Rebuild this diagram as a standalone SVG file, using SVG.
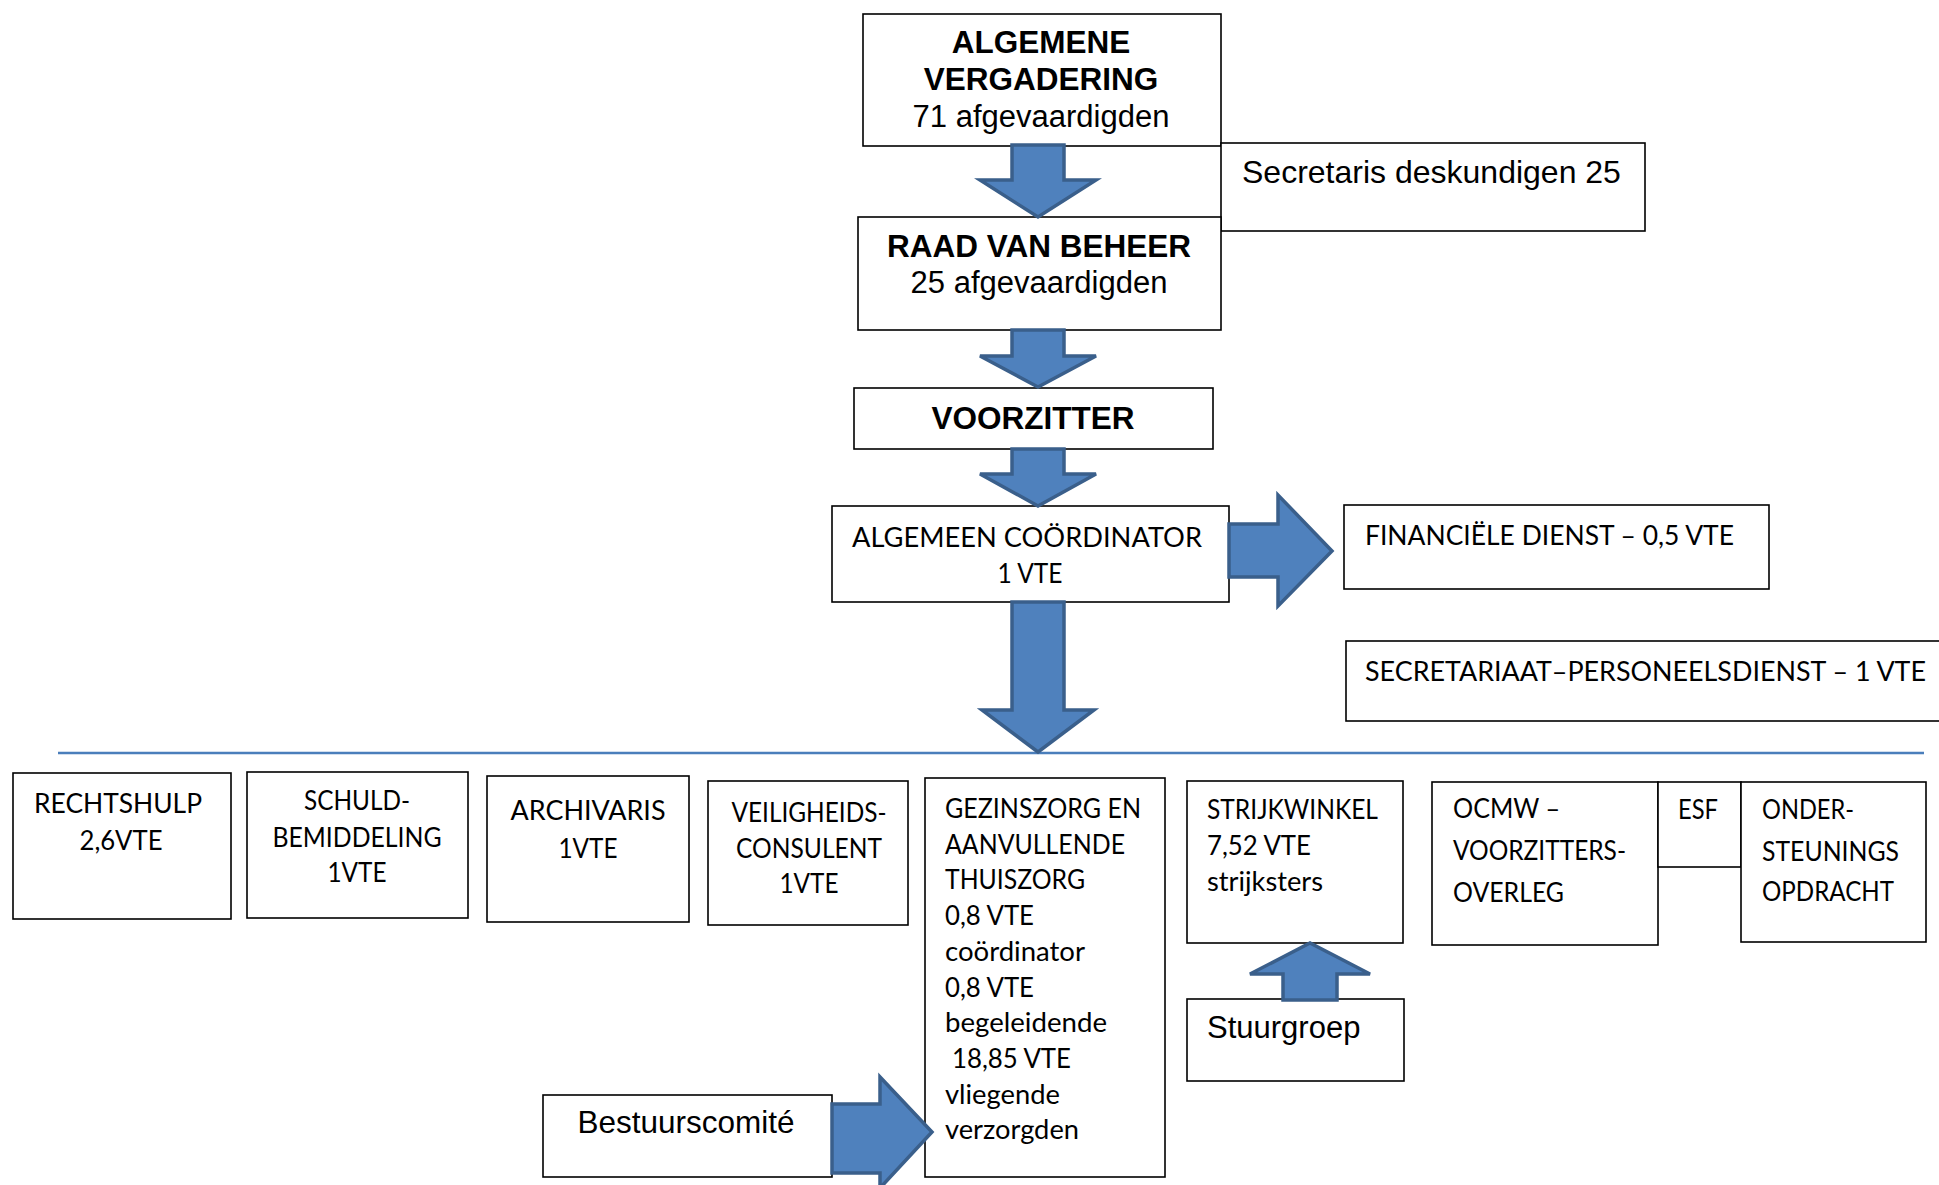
<svg xmlns="http://www.w3.org/2000/svg" width="1939" height="1185" viewBox="0 0 1939 1185">
<style>
.box{fill:#fff;stroke:#000;stroke-width:1.6}
.arw{fill:#4f81bd;stroke:#3a5f8b;stroke-width:3.5;stroke-linejoin:miter}
.hb{font-family:"Liberation Sans",Arial,sans-serif;font-weight:bold;font-size:31.5px;fill:#000}
.hr{font-family:"Liberation Sans",Arial,sans-serif;font-size:31px;fill:#000}
.c{font-family:Lato,"Open Sans",sans-serif;font-size:27px;fill:#000}
.m{text-anchor:middle}
</style>
<rect width="1939" height="1185" fill="#fff"/>

<g id="algemene-vergadering">
<rect class="box" x="863" y="14" width="358" height="132"/>
<text class="hb m" x="1041" y="53">ALGEMENE</text>
<text class="hb m" x="1041" y="90">VERGADERING</text>
<text class="hr m" x="1041" y="127">71 afgevaardigden</text>
</g>

<g id="secretaris">
<rect class="box" x="1221" y="143" width="424" height="88"/>
<text class="hr" x="1242" y="183" style="font-size:32px">Secretaris deskundigen 25</text>
</g>

<g id="raad-van-beheer">
<rect class="box" x="858" y="217" width="363" height="113"/>
<text class="hb m" x="1039" y="257">RAAD VAN BEHEER</text>
<text class="hr m" x="1039" y="293">25 afgevaardigden</text>
</g>

<g id="voorzitter">
<rect class="box" x="854" y="388" width="359" height="61"/>
<text class="hb m" x="1033" y="429">VOORZITTER</text>
</g>

<g id="algemeen-coordinator">
<rect class="box" x="832" y="506" width="397" height="96"/>
<text class="c m" x="1027" y="547" textLength="350" lengthAdjust="spacingAndGlyphs">ALGEMEEN COÖRDINATOR</text>
<text class="c m" x="1030" y="583" textLength="65" lengthAdjust="spacingAndGlyphs">1 VTE</text>
</g>

<g id="financiele-dienst">
<rect class="box" x="1344" y="505" width="425" height="84"/>
<text class="c" x="1365" y="545" textLength="369" lengthAdjust="spacingAndGlyphs">FINANCIËLE DIENST – 0,5 VTE</text>
</g>

<g id="secretariaat">
<rect class="box" x="1346" y="641" width="620" height="80"/>
<text class="c" x="1365" y="681" textLength="561" lengthAdjust="spacingAndGlyphs">SECRETARIAAT–PERSONEELSDIENST – 1 VTE</text>
</g>

<g id="rechtshulp">
<rect class="box" x="13" y="773" width="218" height="146"/>
<text class="c m" x="118" y="813" textLength="168" lengthAdjust="spacingAndGlyphs">RECHTSHULP</text>
<text class="c m" x="121" y="850" textLength="83" lengthAdjust="spacingAndGlyphs">2,6VTE</text>
</g>

<g id="schuldbemiddeling">
<rect class="box" x="247" y="772" width="221" height="146"/>
<text class="c m" x="357" y="810" textLength="106" lengthAdjust="spacingAndGlyphs">SCHULD-</text>
<text class="c m" x="357" y="847" textLength="169" lengthAdjust="spacingAndGlyphs">BEMIDDELING</text>
<text class="c m" x="357" y="882" textLength="59" lengthAdjust="spacingAndGlyphs">1VTE</text>
</g>

<g id="archivaris">
<rect class="box" x="487" y="776" width="202" height="146"/>
<text class="c m" x="588" y="820" textLength="155" lengthAdjust="spacingAndGlyphs">ARCHIVARIS</text>
<text class="c m" x="588" y="858" textLength="59" lengthAdjust="spacingAndGlyphs">1VTE</text>
</g>

<g id="veiligheidsconsulent">
<rect class="box" x="708" y="781" width="200" height="144"/>
<text class="c m" x="809" y="822" textLength="155" lengthAdjust="spacingAndGlyphs">VEILIGHEIDS-</text>
<text class="c m" x="809" y="858" textLength="146" lengthAdjust="spacingAndGlyphs">CONSULENT</text>
<text class="c m" x="809" y="893" textLength="59" lengthAdjust="spacingAndGlyphs">1VTE</text>
</g>

<g id="gezinszorg">
<rect class="box" x="925" y="778" width="240" height="399"/>
<text class="c" x="945" y="818" textLength="196" lengthAdjust="spacingAndGlyphs">GEZINSZORG EN</text>
<text class="c" x="945" y="854" textLength="180" lengthAdjust="spacingAndGlyphs">AANVULLENDE</text>
<text class="c" x="945" y="889" textLength="140" lengthAdjust="spacingAndGlyphs">THUISZORG</text>
<text class="c" x="945" y="925" textLength="89" lengthAdjust="spacingAndGlyphs">0,8 VTE</text>
<text class="c" x="945" y="961" textLength="140" lengthAdjust="spacingAndGlyphs">coördinator</text>
<text class="c" x="945" y="997" textLength="89" lengthAdjust="spacingAndGlyphs">0,8 VTE</text>
<text class="c" x="945" y="1032" textLength="162" lengthAdjust="spacingAndGlyphs">begeleidende</text>
<text class="c" x="952" y="1068" textLength="119" lengthAdjust="spacingAndGlyphs">18,85 VTE</text>
<text class="c" x="945" y="1104" textLength="115" lengthAdjust="spacingAndGlyphs">vliegende</text>
<text class="c" x="945" y="1139" textLength="134" lengthAdjust="spacingAndGlyphs">verzorgden</text>
</g>

<g id="strijkwinkel">
<rect class="box" x="1187" y="781" width="216" height="162"/>
<text class="c" x="1207" y="819" textLength="171" lengthAdjust="spacingAndGlyphs">STRIJKWINKEL</text>
<text class="c" x="1207" y="855" textLength="104" lengthAdjust="spacingAndGlyphs">7,52 VTE</text>
<text class="c" x="1207" y="891" textLength="116" lengthAdjust="spacingAndGlyphs">strijksters</text>
</g>

<g id="stuurgroep">
<rect class="box" x="1187" y="999" width="217" height="82"/>
<text class="hr" x="1207" y="1038">Stuurgroep</text>
</g>

<g id="ocmw">
<rect class="box" x="1432" y="782" width="226" height="163"/>
<text class="c" x="1453" y="818" textLength="107" lengthAdjust="spacingAndGlyphs">OCMW –</text>
<text class="c" x="1453" y="860" textLength="173" lengthAdjust="spacingAndGlyphs">VOORZITTERS-</text>
<text class="c" x="1453" y="902" textLength="111" lengthAdjust="spacingAndGlyphs">OVERLEG</text>
</g>

<g id="esf">
<rect class="box" x="1658" y="782" width="83" height="85"/>
<text class="c" x="1678" y="819" textLength="40" lengthAdjust="spacingAndGlyphs">ESF</text>
</g>

<g id="ondersteuningsopdracht">
<rect class="box" x="1741" y="782" width="185" height="160"/>
<text class="c" x="1762" y="819" textLength="92" lengthAdjust="spacingAndGlyphs">ONDER-</text>
<text class="c" x="1762" y="861" textLength="137" lengthAdjust="spacingAndGlyphs">STEUNINGS</text>
<text class="c" x="1762" y="901" textLength="132" lengthAdjust="spacingAndGlyphs">OPDRACHT</text>
</g>

<g id="bestuurscomite">
<rect class="box" x="543" y="1095" width="289" height="82"/>
<text class="hr m" x="686" y="1133" style="font-size:31.5px">Bestuurscomité</text>
</g>

<g id="connectors">
<line x1="58" y1="753" x2="1924" y2="753" stroke="#4a7ebb" stroke-width="2.5"/>
<polygon class="arw" points="1012,145 1064,145 1064,180 1096,180 1038,217 980,180 1012,180"/>
<polygon class="arw" points="1012,330 1064,330 1064,356 1096,356 1038,387 980,356 1012,356"/>
<polygon class="arw" points="1012,449 1064,449 1064,474 1096,474 1038,506 980,474 1012,474"/>
<polygon class="arw" points="1012,602 1064,602 1064,710 1094,710 1038,752 982,710 1012,710"/>
<polygon class="arw" points="1229,524 1278,524 1278,495 1332,551 1278,606 1278,577 1229,577"/>
<polygon class="arw" points="1283,1000 1337,1000 1337,974 1370,974 1310,943 1250,974 1283,974"/>
<polygon class="arw" points="832,1104 880,1104 880,1077 932,1132 880,1188 880,1173 832,1173"/>
</g>
</svg>
